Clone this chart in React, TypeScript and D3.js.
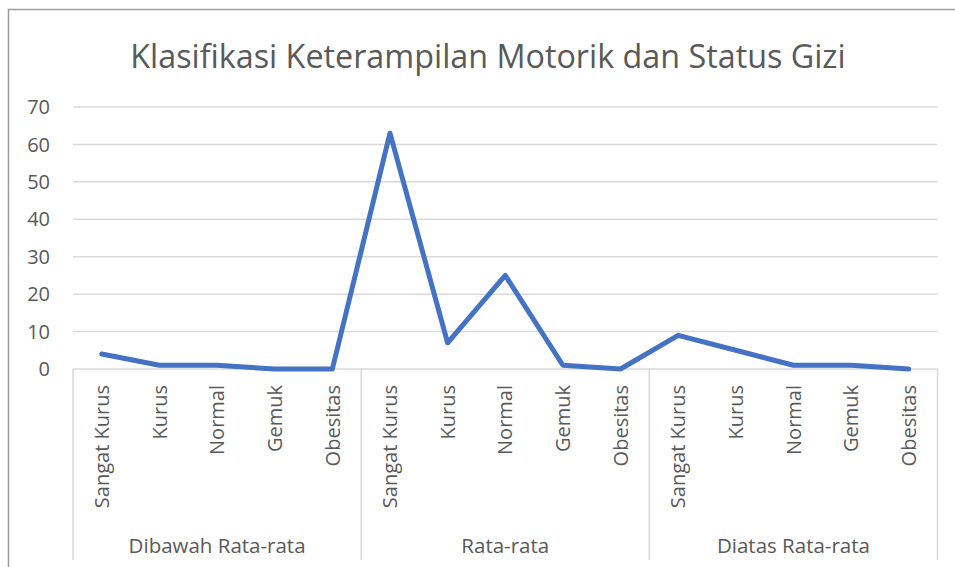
import React from "react";
import * as d3 from "d3";

const title = "Klasifikasi Keterampilan Motorik dan Status Gizi";
const groups = ["Dibawah Rata-rata", "Rata-rata", "Diatas Rata-rata"];
const statuses = ["Sangat Kurus", "Kurus", "Normal", "Gemuk", "Obesitas"];
const dibawahValues = [4, 1, 1, 0, 0];
const rataValues = [63, 7, 25, 1, 0];
const diatasValues = [9, 5, 1, 1, 0];
const yTicks = [0, 10, 20, 30, 40, 50, 60, 70];

const W = 955;
const H = 567;
const FONT = "'Open Sans', 'Noto Sans', sans-serif";
const TEXT = "#595959";

export default function App() {
  const seriesByGroup = [dibawahValues, rataValues, diatasValues];
  const points = groups.flatMap((g, gi) =>
    statuses.map((s, si) => ({ key: `${g}|${s}`, group: g, status: s, value: seriesByGroup[gi][si] }))
  );

  const left = 73;
  const right = 937.5;
  const top = 107;
  const bottom = 369;

  const x = d3.scaleBand<string>().domain(points.map((p) => p.key)).range([left, right]).padding(0);
  const y = d3.scaleLinear().domain([0, 70]).range([bottom, top]);

  const line = d3
    .line<(typeof points)[number]>()
    .x((p) => (x(p.key) as number) + x.bandwidth() / 2)
    .y((p) => y(p.value));

  const groupWidth = x.bandwidth() * statuses.length;

  return (
    <svg width={W} height={H} style={{ position: "absolute", left: 0, top: 0, display: "block" }}>
      <rect x={0} y={0} width={W} height={H} fill="#fff" />
      {/* chart border */}
      <path d={`M8.5,${H + 5} L8.5,9.5 L${W + 5},9.5`} fill="none" stroke="#9b9b9b" strokeWidth={1.5} />
      <text
        x={488}
        y={68}
        textAnchor="middle"
        fontFamily={FONT}
        fontSize={32.3}
        fill={TEXT}
      >
        {title}
      </text>
      {/* gridlines */}
      {yTicks.map((t) => (
        <g key={t}>
          <line x1={left} x2={right} y1={y(t)} y2={y(t)} stroke="#d9d9d9" strokeWidth={1.5} />
          <text
            x={50}
            y={y(t)}
            dy="0.36em"
            textAnchor="end"
            fontFamily={FONT}
            fontSize={20}
            fill={TEXT}
          >
            {t}
          </text>
        </g>
      ))}
      {/* category axis dividers */}
      {[0, 1, 2, 3].map((i) => (
        <line
          key={i}
          x1={left + i * groupWidth}
          x2={left + i * groupWidth}
          y1={bottom}
          y2={560}
          stroke="#d9d9d9"
          strokeWidth={1.5}
        />
      ))}
      {/* category labels */}
      {points.map((p) => {
        const cx = (x(p.key) as number) + x.bandwidth() / 2;
        return (
          <text
            key={p.key}
            transform={`translate(${cx},385) rotate(-90)`}
            textAnchor="end"
            dy="0.36em"
            fontFamily={FONT}
            fontSize={20}
            fill={TEXT}
          >
            {p.status}
          </text>
        );
      })}
      {groups.map((g, gi) => (
        <text
          key={g}
          x={left + gi * groupWidth + groupWidth / 2}
          y={553}
          textAnchor="middle"
          fontFamily={FONT}
          fontSize={20.5}
          fill={TEXT}
        >
          {g}
        </text>
      ))}
      <path
        d={line(points) ?? ""}
        fill="none"
        stroke="#4472C4"
        strokeWidth={5}
        strokeLinejoin="round"
        strokeLinecap="round"
      />
    </svg>
  );
}
